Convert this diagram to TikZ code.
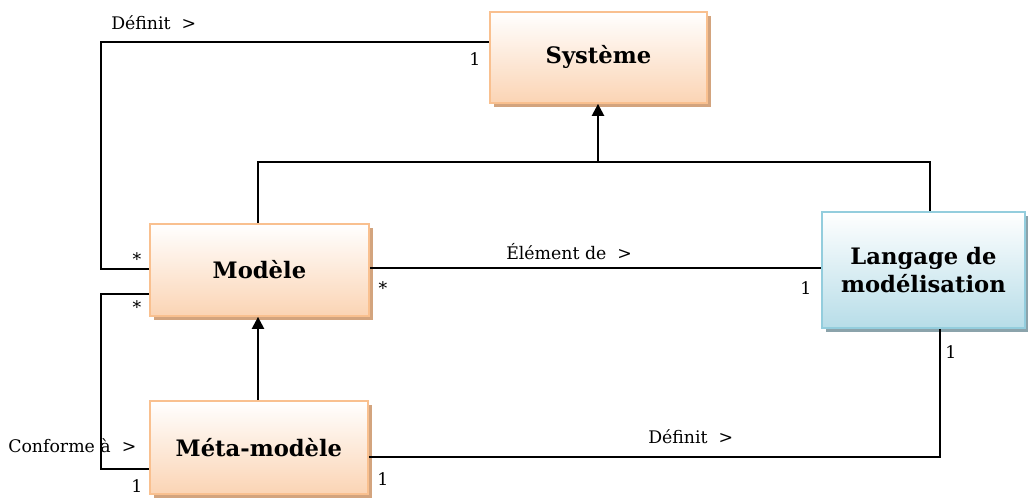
\documentclass[tikz,border=0pt]{standalone}
\usepackage{fontspec}
\setmainfont{DejaVu Serif}
\usetikzlibrary{arrows.meta,shadows}
\definecolor{peachB}{HTML}{F9C08F}
\definecolor{peachF}{HTML}{FBD4B4}
\definecolor{peachS}{HTML}{D3A47E}
\definecolor{blueB}{HTML}{93CDDD}
\definecolor{blueF}{HTML}{B7DDE8}
\definecolor{blueS}{HTML}{8BA3AB}
\tikzset{
  classbox/.style={draw=peachB, line width=1.4pt, top color=white, bottom color=peachF,
    font=\bfseries\fontsize{17}{21}\selectfont, align=center, anchor=north west, inner sep=0pt,
    drop shadow={shadow xshift=3pt, shadow yshift=-3pt, fill=peachS, opacity=1}},
  langbox/.style={classbox, draw=blueB, bottom color=blueF,
    drop shadow={shadow xshift=3pt, shadow yshift=-3pt, fill=blueS, opacity=1}},
  link/.style={line width=1.7pt, black},
  gen/.style={link, -{Triangle[length=9pt,width=9pt]}},
  lbl/.style={font=\fontsize{13}{15}\selectfont, inner sep=0pt},
  txt/.style={lbl, anchor=west},
}
\begin{document}
\begin{tikzpicture}[x=0.75pt, y=-0.75pt]
\useasboundingbox (0,0) rectangle (1028,497);
% classes
\node[classbox, minimum width=217*0.75pt, minimum height=91*0.75pt] (sys) at (489,11) {Système};
\node[classbox, minimum width=219*0.75pt, minimum height=92*0.75pt] (mod) at (149,223) {Modèle};
\node[langbox, minimum width=203*0.75pt, minimum height=116*0.75pt] (lang) at (821,211) {Langage de\\modélisation};
\node[classbox, minimum width=218*0.75pt, minimum height=93*0.75pt] (meta) at (149,400) {Méta-modèle};
% routing points
\coordinate (d1) at (101,269);
\coordinate (d2) at (101,42);
\coordinate (c1) at (101,294);
\coordinate (c2) at (101,469);
\coordinate (j) at (598,162);
\coordinate (lx) at (930,162);
\coordinate (mx) at (258,162);
\coordinate (e1) at (940,457);
% Définit (Modèle -> Système)
\draw[link] (mod.west |- d1) -- (d1) -- (d2) -- (sys.west |- d2);
% generalisations towards Système
\draw[link] (mod.north -| mx) -- (mx) -- (lx) -- (lang.north -| lx);
\draw[gen] (j) -- (sys.south -| j);
% Élément de
\draw[link] (mod.east |- 0,268) -- (lang.west |- 0,268);
% Méta-modèle -> Modèle
\draw[gen] (meta.north -| mx) -- (mod.south -| mx);
% Conforme à
\draw[link] (mod.west |- c1) -- (c1) -- (c2) -- (meta.west |- c2);
% Définit (Méta-modèle -> Langage)
\draw[link] (meta.east |- e1) -- (e1) -- (lang.south -| e1);
% labels
\node[txt] (l1) at (111,23) {Définit~~>};
\node[lbl] (l2) at (475,59) {1};
\node[lbl] (l3) at (137,259) {*};
\node[lbl] (l4) at (137,307) {*};
\node[txt] (l5) at (506,252) {Élément de~~>};
\node[lbl] (l6) at (383,288) {*};
\node[lbl] (l7) at (806,288) {1};
\node[lbl] (l8) at (951,352) {1};
\node[txt] (l9) at (8,446) {Conforme à~~>};
\node[lbl] (l10) at (137,486) {1};
\node[lbl] (l11) at (383,479) {1};
\node[txt] (l12) at (648,437) {Définit~~>};
\end{tikzpicture}
\end{document}
